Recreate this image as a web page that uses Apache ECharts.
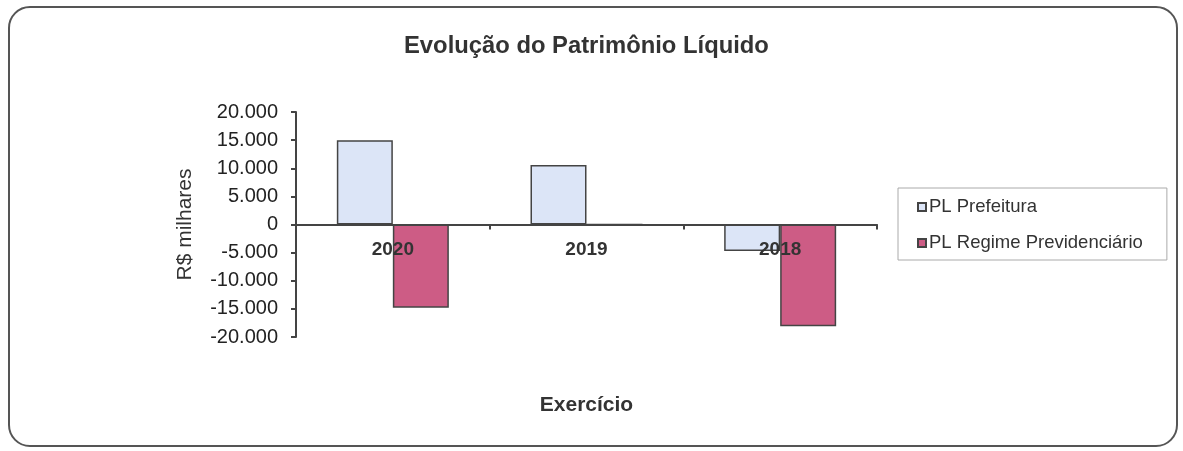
<!DOCTYPE html>
<html>
<head>
<meta charset="utf-8">
<script src="https://cdn.jsdelivr.net/npm/echarts@6/dist/echarts.min.js"></script>
<style>
html,body{margin:0;padding:0;background:#fff;}
#frame{position:absolute;left:8px;top:6px;width:1170px;height:441px;border:2px solid #555;border-radius:22px;box-sizing:border-box;}
#chart{position:absolute;left:0;top:0;width:1183px;height:451px;}
</style>
</head>
<body>
<div id="frame"></div>
<div id="chart"></div>
<script>
const titleText = 'Evolução do Patrimônio Líquido';
const categories = ['2020', '2019', '2018'];
const seriesNames = ['PL Prefeitura', 'PL Regime Previdenciário'];
const plPrefeitura = [15000, 10600, -4700];
const plRegime = [-14800, 0, -18100];
const yAxisName = 'R$ milhares';
const xAxisName = 'Exercício';

const fmt = v => {
  const s = Math.abs(v).toString().replace(/\B(?=(\d{3})+(?!\d))/g, '.');
  return (v < 0 ? '-' : '') + s;
};

const chart = echarts.init(document.getElementById('chart'), null, {renderer: 'canvas'});
chart.setOption({
  animation: false,
  backgroundColor: 'transparent',
  textStyle: {fontFamily: 'Liberation Sans, Arial, sans-serif'},
  title: {
    text: titleText,
    left: 399, top: 29,
    textStyle: {fontSize: 23.8, fontWeight: 'bold', color: '#333', fontFamily: 'Liberation Sans, Arial, sans-serif'}
  },
  grid: {left: 296, right: 306, top: 112, bottom: 114, containLabel: false, outerBoundsMode: 'none'},
  legend: {
    orient: 'vertical',
    left: 898, top: 188,
    padding: [9, 24, 7, 19],
    itemGap: 16,
    itemWidth: 8, itemHeight: 8,
    icon: 'rect',
    borderColor: '#aaa', borderWidth: 1,
    textStyle: {fontSize: 18.5, color: '#333', lineHeight: 20, padding: [0, 0, 0, -2]},
    data: seriesNames
  },
  xAxis: {
    type: 'category',
    data: categories,
    z: 5,
    name: xAxisName,
    nameLocation: 'middle',
    nameGap: 58,
    nameTextStyle: {fontSize: 21, fontWeight: 'bold', color: '#333'},
    axisLine: {onZero: true, lineStyle: {color: '#444', width: 2}},
    axisTick: {show: true, length: 5, lineStyle: {color: '#444', width: 2}},
    axisLabel: {fontSize: 19, fontWeight: 'bold', color: '#333', margin: -97},
    splitLine: {show: false}
  },
  yAxis: {
    type: 'value',
    min: -20000, max: 20000, interval: 5000,
    name: yAxisName,
    nameLocation: 'middle',
    nameGap: 100,
    nameTextStyle: {fontSize: 21, color: '#333'},
    axisLine: {show: true, lineStyle: {color: '#444', width: 2}},
    axisTick: {show: true, length: 5, lineStyle: {color: '#444', width: 2}},
    axisLabel: {fontSize: 20, color: '#222', margin: 18, formatter: fmt},
    splitLine: {show: false}
  },
  series: [
    {
      name: seriesNames[0], type: 'bar', data: plPrefeitura,
      barWidth: 56, barGap: '0%',
      itemStyle: {color: '#DCE5F7', borderColor: '#444', borderWidth: 1.5}
    },
    {
      name: seriesNames[1], type: 'bar', data: plRegime,
      barWidth: 56, barGap: '0%',
      itemStyle: {color: '#CD5C85', borderColor: '#444', borderWidth: 1.5}
    }
  ]
});
</script>
</body>
</html>
